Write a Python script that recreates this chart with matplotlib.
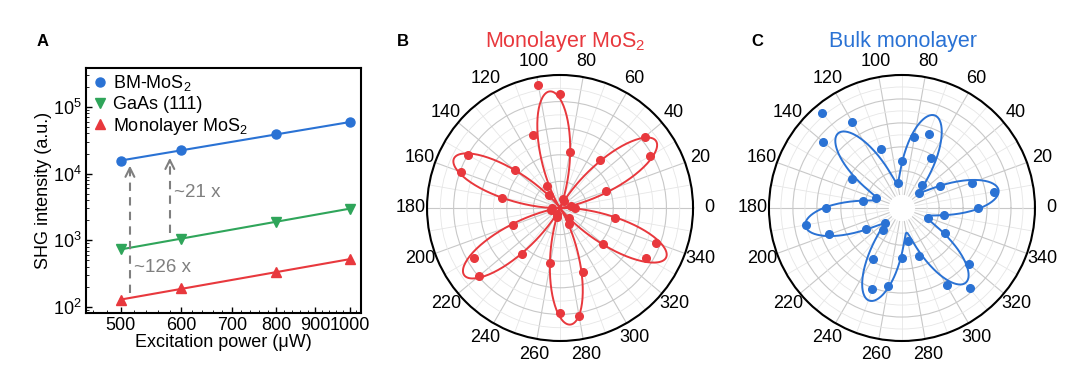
import numpy as np
import matplotlib
matplotlib.use("Agg")
import matplotlib.pyplot as plt
from matplotlib.lines import Line2D

plt.rcParams['font.family'] = ['Liberation Sans', 'DejaVu Sans']
plt.rcParams['mathtext.fontset'] = 'custom'
plt.rcParams['mathtext.rm'] = 'Liberation Sans'
plt.rcParams['mathtext.it'] = 'Liberation Sans:italic'

# ---- panel A data ----
power = [500, 600, 800, 1000]
bm_mos2 = [15500, 22600, 39300, 58600]
gaas = [733, 1047, 1900, 2980]
mono_mos2 = [127, 190, 331, 519]

# ---- panel B / C data (angle in deg, intensity a.u.) ----
angles = list(range(0, 360, 10))
mono_pol = [0.11, 0.08, 0.37, 0.78, 0.835, 0.47, 0.06, 0.07, 0.43, 0.86,
            0.94, 0.585, 0.19, 0.13, 0.44, 0.80, 0.79, 0.44, 0.06, 0.07,
            0.38, 0.75, 0.795, 0.45, 0.05, 0.07, 0.42, 0.79, 0.825, 0.51,
            0.14, 0.10, 0.42, 0.75, 0.77, 0.42]
bulk_pol = [0.528, 0.667, 0.512, 0.256, 0.079, 0.145, 0.367, 0.545, 0.489, 0.279,
            0.101, 0.412, 0.723, 0.928, 0.745, 0.367, 0.123, 0.223, 0.523, 0.700,
            0.534, 0.234, 0.079, 0.134, 0.378, 0.612, 0.550, 0.306, 0.168, 0.312,
            0.634, 0.767, 0.623, 0.301, 0.123, 0.245]

# fit parameters: r = offset + amp * cos^2(3(theta - phase))
mono_fit = (0.0, 0.88, 35.0)
bulk_fit = (0.10, 0.61, 10.5)

RED = '#e8383d'
BLUE = '#2a72d4'
GREEN = '#2fa55a'

fig = plt.figure(figsize=(10.8, 3.77), dpi=100)

# ---------------- panel A ----------------
ax = fig.add_axes([0.0796, 0.1698, 0.2546, 0.65])
ax.set_xscale('log')
ax.set_yscale('log')

for ys, col, mk in [(bm_mos2, BLUE, 'o'), (gaas, GREEN, 'v'), (mono_mos2, RED, '^')]:
    k, b = np.polyfit(np.log10(power), np.log10(ys), 1)
    xx = np.array([power[0], power[-1]])
    ax.plot(xx, 10 ** (k * np.log10(xx) + b), color=col, lw=1.5)
    ax.plot(power, ys, mk, color=col, ms=6.5, mec=col)

ax.set_xlim(450, 1034)
ax.set_ylim(81, 3.85e5)
ax.set_xticks([500, 600, 700, 800, 900, 1000])
ax.set_xticklabels(['500', '600', '700', '800', '900', '1000'])
ax.xaxis.set_minor_locator(matplotlib.ticker.MultipleLocator(20))
ax.xaxis.set_minor_formatter(matplotlib.ticker.NullFormatter())
ax.tick_params(which='both', direction='in', labelsize=13)
ax.tick_params(which='major', length=4, width=1, pad=3)
ax.tick_params(which='minor', length=2)
for s in ax.spines.values():
    s.set_linewidth(1.5)
ax.set_xlabel('Excitation power (\u03bcW)', fontsize=13, labelpad=0)
ax.set_ylabel('SHG intensity (a.u.)', fontsize=13, labelpad=1)

# dashed arrows
gray = '#7f7f7f'
for x, y0, y1 in [(514, 160, 14500), (580, 1270, 19000)]:
    ax.plot([x, x], [y0, y1 * 0.8], ls='--', color=gray, lw=1.5, dashes=(4, 3))
    ax.annotate('', xy=(x, y1), xytext=(x, y1 * 0.7),
                arrowprops=dict(arrowstyle='->', color=gray, lw=1.5,
                                mutation_scale=16))
ax.text(588, 5200, '~21 x', color=gray, fontsize=13.5, va='center')
ax.text(520, 385, '~126 x', color=gray, fontsize=13.5, va='center')

handles = [Line2D([], [], ls='none', marker='o', color=BLUE, ms=6.5),
           Line2D([], [], ls='none', marker='v', color=GREEN, ms=6.5),
           Line2D([], [], ls='none', marker='^', color=RED, ms=6.5)]
ax.legend(handles, ['BM-MoS$_2$', 'GaAs (111)', 'Monolayer MoS$_2$'],
          loc='upper left', frameon=False, fontsize=13, handletextpad=0.2,
          borderaxespad=0.1, labelspacing=0.15, handlelength=1.0,
          borderpad=0.2)

fig.text(0.034, 0.889, 'A', fontsize=12, fontweight='bold', va='center')


# ---------------- polar panels ----------------
def polar_panel(rect, vals, fit, col, rorigin):
    pax = fig.add_axes(rect, projection='polar')
    th = np.deg2rad(angles)
    t = np.linspace(0, 2 * np.pi, 721)
    off, amp, ph = fit
    r = off + amp * np.cos(3 * (t - np.deg2rad(ph))) ** 2
    pax.plot(t, r, color=col, lw=1.4)
    pax.plot(th, vals, 'o', color=col, ms=5.5, mec=col)
    pax.set_ylim(0, 1.0)
    if rorigin:
        pax.set_rorigin(rorigin)
    pax.spines['inner'].set_linewidth(0)
    pax.spines['inner'].set_edgecolor('none')
    pax.set_yticks([0.2, 0.4, 0.6, 0.8])
    pax.set_yticks([0.1, 0.3, 0.5, 0.7, 0.9], minor=True)
    pax.set_yticklabels([])
    pax.set_xticks(np.deg2rad(np.arange(0, 360, 20)))
    pax.set_xticklabels([str(a) for a in range(0, 360, 20)], fontsize=13)
    pax.set_xticks(np.deg2rad(np.arange(10, 360, 20)), minor=True)
    pax.grid(which='major', color='#c8c8c8', lw=0.8)
    pax.grid(which='minor', color='#e6e6e6', lw=0.6)
    pax.tick_params(axis='x', pad=1)
    pax.spines['polar'].set_linewidth(1.5)
    pax.set_axisbelow(True)
    return pax


polar_panel([0.3954, 0.0955, 0.2463, 0.7056], mono_pol, mono_fit, RED, None)
polar_panel([0.712, 0.0955, 0.2463, 0.7056], bulk_pol, bulk_fit, BLUE, -0.11)

fig.text(0.3676, 0.889, 'B', fontsize=12, fontweight='bold', va='center')
fig.text(0.696, 0.889, 'C', fontsize=12, fontweight='bold', va='center')
fig.text(0.523, 0.891, 'Monolayer MoS$_2$', color=RED, fontsize=15.5,
         ha='center', va='center')
fig.text(0.836, 0.891, 'Bulk monolayer', color=BLUE, fontsize=15.5,
         ha='center', va='center')

fig.savefig('out.png', dpi=100)
